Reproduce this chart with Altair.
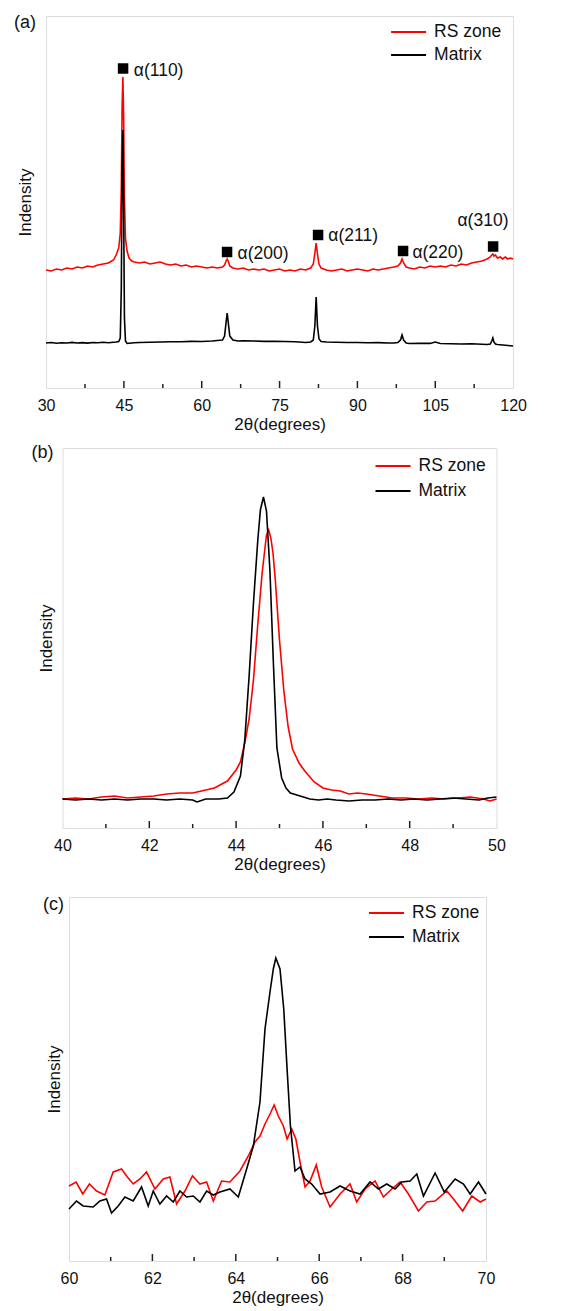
import altair as alt
import pandas as pd

FONT = "Liberation Sans"
SERIES = ["RS zone", "Matrix"]
COLORS = ["#ff0000", "#000000"]

# ---------------- Panel (a): full pattern ----------------
a_rs_x = [30, 31, 32, 33, 34, 35, 36, 37, 38, 39, 40, 41, 42, 43, 43.5, 44, 44.3, 44.5, 44.65, 44.8,
          44.95, 45.1, 45.3, 45.6, 46, 46.5, 47, 48, 49, 50, 51, 52, 53, 54, 55, 56, 57, 58, 59, 60,
          61, 62, 63, 64, 64.4, 64.7, 64.9, 65.1, 65.4, 66, 67, 68, 69, 70, 71, 72, 73, 74, 75, 76,
          77, 78, 79, 80, 81, 81.5, 81.8, 82.05, 82.3, 82.6, 83, 84, 85, 86, 87, 88, 89, 90, 91, 92,
          93, 94, 95, 96, 97, 97.8, 98.3, 98.6, 98.9, 99.4, 100, 101, 102, 103, 104, 105, 106, 107,
          108, 109, 110, 111, 112, 113, 114, 115, 115.6, 115.9, 116.1, 116.3, 116.6, 117, 117.5, 118,
          118.5, 119, 119.5, 120]
a_rs_y = [118, 117, 119, 118, 120, 119, 121, 120, 122, 121, 123, 124, 125, 128, 133, 140, 155, 200, 280, 311,
          270, 190, 150, 137, 130, 127, 126, 125, 126, 124, 125, 126, 124, 123, 124, 122, 123, 121, 122, 121,
          120, 121, 120, 121, 123, 127, 129, 127, 122, 120, 119, 120, 118, 119, 118, 119, 117, 118, 119, 117,
          118, 117, 119, 118, 120, 124, 135, 145, 134, 124, 120, 118, 117, 118, 119, 117, 118, 119, 118, 117,
          119, 118, 119, 120, 121, 122, 125, 129, 125, 121, 120, 119, 121, 120, 122, 121, 122, 121,
          123, 122, 124, 123, 125, 126, 127, 129, 131, 133, 134, 132, 133, 130, 131, 129,
          131, 129, 130, 129]

a_mx_x = [30, 31, 32, 33, 34, 35, 36, 37, 38, 39, 40, 41, 42, 43, 43.5, 44, 44.3, 44.5, 44.65, 44.8,
          44.95, 45.1, 45.3, 45.6, 46, 46.5, 47, 48, 50, 52, 54, 56, 58, 60, 62, 63, 64, 64.4, 64.7, 64.9,
          65.1, 65.4, 66, 67, 68, 70, 72, 74, 76, 78, 80, 81, 81.5, 81.8, 82.05, 82.3, 82.6, 83, 84, 86,
          88, 90, 92, 94, 96, 97, 97.8, 98.3, 98.6, 98.9, 99.4, 100, 102, 104, 105, 106, 108, 110, 112,
          114, 115, 115.6, 115.9, 116.1, 116.3, 116.6, 117, 118, 119, 120]
a_mx_y = [45, 45.5, 44.8, 45.3, 45, 45.6, 45, 45.4, 44.9, 45.5, 45.2, 45.7, 45.3, 45.8, 46, 46.5, 50, 100, 220, 258,
          180, 70, 47, 44.5, 44.8, 45, 45.2, 45.5, 45.8, 46, 46.3, 46.2, 46.6, 46.5, 47, 47.5, 48, 52, 66, 75,
          66, 52, 48, 47, 47.3, 47, 46.6, 46.8, 46.5, 46.2, 45.5, 46, 48, 62, 91, 62, 49, 46.5, 46, 45.8,
          45.5, 45.5, 45.2, 45.4, 45, 45, 45.5, 48, 53, 48, 45, 44.5, 44.8, 44.6, 46, 44.5, 44.3, 44, 44.2,
          43.8, 43.5, 44, 47, 50, 46, 44, 43.5, 43, 42.5, 42]

a_peak_labels = ["α(110)", "α(200)", "α(211)", "α(220)"]
a_peak_sq_x = [44.84, 64.88, 82.42, 98.8]
a_peak_sq_y = [319.5, 136, 153, 137]
a_peak_txt_x = [46.9, 66.9, 84.4, 100.6]
a_peak_txt_y = [317, 134, 152, 135]
a310_sq_x, a310_sq_y = [116.15], [141.5]
a310_txt_x, a310_txt_y = [114.2], [167]
a310_label = ["α(310)"]

# ---------------- Panel (b): α(110) detail ----------------
b_rs_x = [40.0, 40.3, 40.6, 40.9, 41.2, 41.5, 41.8, 42.1, 42.4, 42.7, 43.0, 43.2, 43.5, 43.8, 44.0, 44.1,
          44.2, 44.3, 44.4, 44.5, 44.6, 44.7, 44.75, 44.8, 44.85, 44.9, 45.0, 45.1, 45.2, 45.3, 45.45, 45.6,
          45.8, 46.0, 46.2, 46.4, 46.6, 46.8, 47.0, 47.3, 47.6, 47.9, 48.2, 48.5, 48.8, 49.1, 49.4, 49.7,
          49.85, 50.0]
b_rs_y = [29, 30, 29, 31, 32, 30, 31, 32, 34, 35, 35, 37, 40, 47, 58, 66,
          85, 109, 148, 204, 255, 293, 298, 290, 275, 250, 188, 137, 101, 79, 65, 56,
          46, 40, 38, 37, 34, 35, 34, 32, 30, 30, 29, 30, 29, 30, 31, 29,
          27, 29]

b_mx_x = [40.0, 40.3, 40.6, 40.9, 41.2, 41.5, 41.8, 42.1, 42.4, 42.7, 43.0, 43.1, 43.3, 43.6, 43.8, 43.95,
          44.1, 44.2, 44.3, 44.4, 44.5, 44.56, 44.63, 44.7, 44.78, 44.86, 44.94, 45.05, 45.15, 45.25, 45.4,
          45.55, 45.7, 45.9, 46.1, 46.3, 46.6, 46.9, 47.2, 47.5, 47.8, 48.1, 48.4, 48.7, 49.0, 49.3, 49.6,
          49.8, 50.0]
b_mx_y = [29, 28, 29, 28, 29, 28, 29, 29, 28, 29, 28, 26, 29, 29, 30, 36,
          52, 88, 152, 225, 288, 318, 331, 317, 257, 164, 80, 50, 40, 35, 33,
          31, 29, 28, 29, 28, 27, 28, 28, 29, 28, 29, 28, 29, 30, 29, 28,
          30, 31]

# ---------------- Panel (c): α(200) detail ----------------
c_rs_x = [60.0, 60.17, 60.33, 60.49, 60.66, 60.86, 61.06, 61.26, 61.4, 61.54, 61.7, 61.86, 62.06, 62.26,
          62.42, 62.58, 62.78, 62.96, 63.14, 63.3, 63.46, 63.66, 63.86, 64.1, 64.3, 64.46, 64.58, 64.7,
          64.82, 64.92, 65.02, 65.14, 65.23, 65.34, 65.44, 65.54, 65.66, 65.78, 65.93, 66.06, 66.26, 66.5,
          66.74, 66.9, 67.1, 67.34, 67.54, 67.74, 67.94, 68.14, 68.38, 68.58, 68.78, 69.06, 69.22, 69.44,
          69.66, 69.86, 70.0]
c_rs_y = [75, 79, 67, 77, 70, 66, 89, 92, 84, 77, 82, 89, 72, 82,
          84, 57, 70, 85, 77, 79, 60, 80, 79, 90, 105, 119, 125, 137,
          147, 156, 145, 135, 122, 132, 122, 99, 74, 80, 96, 74, 54, 67,
          77, 59, 72, 80, 64, 72, 79, 67, 50, 59, 60, 70, 62, 50,
          65, 59, 62]

c_mx_x = [60.0, 60.18, 60.34, 60.58, 60.74, 60.9, 61.02, 61.18, 61.34, 61.54, 61.74, 61.9, 62.02, 62.18,
          62.34, 62.5, 62.66, 62.82, 62.98, 63.14, 63.3, 63.46, 63.62, 63.86, 64.06, 64.26, 64.42, 64.58,
          64.7, 64.82, 64.9, 64.96, 65.06, 65.15, 65.23, 65.31, 65.42, 65.54, 65.66, 65.82, 66.02, 66.26,
          66.5, 66.74, 66.98, 67.22, 67.42, 67.62, 67.82, 67.98, 68.18, 68.34, 68.5, 68.78, 69.0, 69.26,
          69.46, 69.62, 69.82, 70.0]
c_mx_y = [52, 60, 55, 54, 60, 62, 48, 55, 64, 60, 74, 55, 70, 57,
          65, 59, 70, 64, 65, 59, 70, 66, 69, 72, 64, 92, 115, 159,
          232, 269, 292, 303, 292, 252, 192, 135, 90, 94, 82, 77, 67, 69,
          75, 70, 67, 79, 72, 77, 72, 79, 80, 87, 65, 88, 69, 82,
          77, 67, 79, 67]


def long_df(rs_x, rs_y, mx_x, mx_y):
    return pd.concat([
        pd.DataFrame({"x": rs_x, "y": rs_y, "series": SERIES[0]}),
        pd.DataFrame({"x": mx_x, "y": mx_y, "series": SERIES[1]}),
    ], ignore_index=True)


COLOR_SCALE = alt.Scale(domain=SERIES, range=COLORS)


def panel(df, xdom, ydom, w, h, major, minor, tag, tag_dx, tag_dy,
          leg_x, leg_rows, ytitle_pad, right_space=None, extra=None):
    xs = alt.Scale(domain=xdom, nice=False, zero=False)
    ys = alt.Scale(domain=ydom, nice=False, zero=False)
    xax = alt.Axis(values=major, ticks=False, domain=False, grid=False,
                   labelPadding=9, labelFontSize=16, labelFont=FONT,
                   labelColor="#111", title="2θ(degrees)", titleFont=FONT,
                   titleFontSize=17, titleFontWeight="normal", titleColor="#111",
                   titlePadding=3, labelFlush=False)
    yax = alt.Axis(labels=False, ticks=False, domain=False, grid=False,
                   title="Indensity", titleFont=FONT, titleFontSize=17,
                   titleFontWeight="normal", titleColor="#111",
                   titlePadding=ytitle_pad)
    X = lambda f: alt.X(f, scale=xs, axis=xax)
    Y = lambda f: alt.Y(f, scale=ys, axis=yax)
    lines = alt.Chart(df).mark_line(strokeWidth=1.6, interpolate="linear").encode(
        x=X("x:Q"),
        y=Y("y:Q"),
        color=alt.Color("series:N", scale=COLOR_SCALE, legend=None),
        order=alt.Order("x:Q"),
    )
    major_in = [v for v in major if xdom[0] < v < xdom[1]]
    tmaj = alt.Chart(pd.DataFrame({"x": major_in})).mark_rule(color="#222", strokeWidth=1.5).encode(
        x=X("x:Q"), y=alt.value(h), y2=alt.value(h - 7))
    tmin = alt.Chart(pd.DataFrame({"x": minor})).mark_rule(color="#222", strokeWidth=1.5).encode(
        x=X("x:Q"), y=alt.value(h), y2=alt.value(h - 4))
    lab = alt.Chart(pd.DataFrame({"t": [tag]})).mark_text(
        align="left", baseline="top", fontSize=18, font=FONT, color="#111").encode(
        x=alt.value(tag_dx), y=alt.value(tag_dy), text="t:N")
    layers = [lines, tmaj, tmin, lab]
    # legend (inside, top-right): a short line and the series name on each row
    for name, yc in zip(SERIES, leg_rows):
        ldf = pd.DataFrame({"series": [name]})
        layers.append(alt.Chart(ldf).mark_rule(strokeWidth=2).encode(
            x=alt.value(leg_x), x2=alt.value(leg_x + 35), y=alt.value(yc),
            color=alt.Color("series:N", scale=COLOR_SCALE, legend=None)))
        layers.append(alt.Chart(ldf).mark_text(
            align="left", baseline="middle", fontSize=17.5, font=FONT, color="#111").encode(
            x=alt.value(leg_x + 43), y=alt.value(yc), text="series:N"))
    if right_space is not None:
        # invisible (white) spacer that only widens the panel's layout bounds
        layers.append(alt.Chart(pd.DataFrame({"t": [0]})).mark_rule(color="white", strokeWidth=1).encode(
            x=alt.value(w + right_space), y=alt.value(h / 2), y2=alt.value(h / 2 + 1)))
    if extra:
        layers += [e(X, Y) for e in extra]
    return alt.layer(*layers).properties(width=w, height=h)


def a_squares(X, Y):
    df = pd.DataFrame({"x": a_peak_sq_x + a310_sq_x, "y": a_peak_sq_y + a310_sq_y})
    return alt.Chart(df).mark_square(size=110, color="#000", opacity=1).encode(
        x=X("x:Q"), y=Y("y:Q"))


def a_texts(X, Y):
    df = pd.DataFrame({"x": a_peak_txt_x, "y": a_peak_txt_y, "t": a_peak_labels})
    return alt.Chart(df).mark_text(align="left", baseline="middle", fontSize=17.5,
                                   font=FONT, color="#111").encode(
        x=X("x:Q"), y=Y("y:Q"), text="t:N")


def a_text310(X, Y):
    df = pd.DataFrame({"x": a310_txt_x, "y": a310_txt_y, "t": a310_label})
    return alt.Chart(df).mark_text(align="center", baseline="middle", fontSize=17.5,
                                   font=FONT, color="#111").encode(
        x=X("x:Q"), y=Y("y:Q"), text="t:N")


pa = panel(long_df(a_rs_x, a_rs_y, a_mx_x, a_mx_y), [30, 120], [0, 372], 467, 372,
           [30, 45, 60, 75, 90, 105, 120], [37.5, 52.5, 67.5, 82.5, 97.5, 112.5],
           "(a)", -32, -2, 345, [16, 39], 12, extra=[a_squares, a_texts, a_text310])
pb = panel(long_df(b_rs_x, b_rs_y, b_mx_x, b_mx_y), [40, 50], [0, 380], 434, 380,
           [40, 42, 44, 46, 48, 50], [41, 43, 45, 47, 49],
           "(b)", -31, -4, 313, [18, 43], 7, right_space=13)
pc = panel(long_df(c_rs_x, c_rs_y, c_mx_x, c_mx_y), [60, 70], [0, 364], 417, 364,
           [60, 62, 64, 66, 68, 70], [61, 63, 65, 67, 69],
           "(c)", -26, -1, 300, [16, 40], 6, right_space=17)

inner = alt.vconcat(pb, pc, spacing=22, center=True)
chart = alt.vconcat(pa, inner, spacing=10, center=True).properties(
    padding={"left": 5, "top": 5, "right": 5, "bottom": 5}
).configure_view(stroke="#222", strokeWidth=2).configure(background="white")

chart.save("out.html", embed_options={"renderer": "svg", "actions": False})
